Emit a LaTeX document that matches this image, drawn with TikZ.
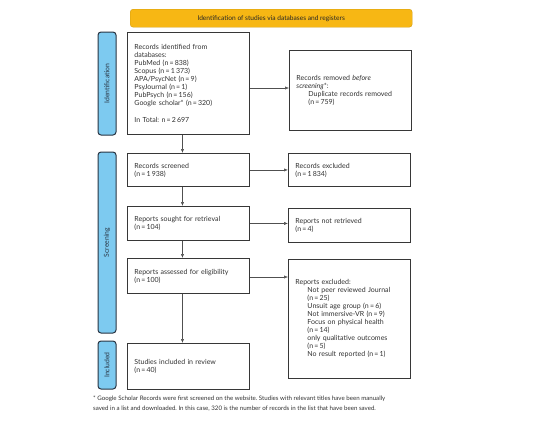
\documentclass[tikz,border=0pt]{standalone}
\usepackage{fontspec}
\setmainfont{Lato}
\usetikzlibrary{arrows.meta}
\definecolor{txtgray}{RGB}{50,50,50}
\definecolor{linegray}{RGB}{55,55,55}
\definecolor{arrgray}{RGB}{80,80,80}
\definecolor{barblue}{RGB}{125,202,240}
\definecolor{bardark}{RGB}{40,52,66}
\definecolor{bannerorange}{RGB}{247,183,20}
\frenchspacing

\begin{document}
\begin{tikzpicture}[x=1pt,y=-1pt,
  every node/.style={font=\fontsize{7}{8}\selectfont, text=txtgray},
  box/.style={draw=linegray, line width=0.9pt, fill=white, anchor=north west,
    align=left, inner xsep=7pt, inner ysep=0pt, text width=108pt},
  sidebar/.style={draw=bardark, line width=1pt, fill=barblue, rounded corners=3pt,
    rotate=90, minimum height=18pt, inner sep=0pt, text=bardark,
    font=\fontsize{6.8}{8}\selectfont},
  banner/.style={draw=bannerorange!85!black, line width=0.4pt, fill=bannerorange,
    rounded corners=3pt, anchor=north west, minimum width=282pt, minimum height=18pt,
    inner sep=0pt, text=black!85, font=\fontsize{6.6}{8}\selectfont},
  arr/.style={draw=arrgray, line width=0.5pt, -{Latex[length=4pt,width=3.2pt]}}
]
\useasboundingbox (0,0) rectangle (545,426);

%---------------------------------------
% Header and phase bars
%---------------------------------------
\def\indent{\hspace*{12pt}}
\def\ne{\,=\,}

\node[banner] (head) at (130,9) {Identification of studies via databases and registers};

\node[sidebar, minimum width=103pt] (barId)   at (107,83.5)  {Identification};
\node[sidebar, minimum width=181pt] (barScr)  at (107,242.5) {Screening};
\node[sidebar, minimum width=48pt]  (barInc)  at (107,365)   {Included};

%---------------------------------------
% Left column
%---------------------------------------
\node[box, minimum height=102pt] (ident) at (127,32) {%
  Records identified from\\ databases:\\ PubMed (n\ne838)\\ Scopus (n\ne1\,373)\\
  APA/PsycNet (n\ne9)\\ PsyJournal (n\ne1)\\ PubPsych (n\ne156)\\
  Google scholar* (n\ne320)\\[9pt] In Total: n\ne2\,697};
\node[box, minimum height=33pt] (screened) at (127,153) {Records screened\\ (n\ne1\,938)};
\node[box, minimum height=34pt] (sought)   at (127,206) {Reports sought for retrieval\\ (n\ne104)};
\node[box, minimum height=35pt] (assessed) at (127,258) {Reports assessed for eligibility\\ (n\ne100)};
\node[box, minimum height=46pt] (studies)  at (127,343) {Studies included in review\\ (n\ne40)};

%---------------------------------------
% Right column
%---------------------------------------
\node[box, minimum height=80pt] (removed) at (289,50) {%
  Records removed \textit{before}\\ \textit{screening}*:\\
  \indent Duplicate records removed\\ \indent (n\ne759)};
\node[box, minimum height=33pt] (excl)   at (288,153) {Records excluded\\ (n\ne1\,834)};
\node[box, minimum height=34pt] (notret) at (288,208) {Reports not retrieved\\ (n\ne4)};
\node[box, minimum height=119pt] (exclrep) at (288,259) {%
  Reports excluded:\\
  \indent Not peer reviewed Journal\\ \indent (n\ne25)\\
  \indent Unsuit age group (n\ne6)\\
  \indent Not immersive-VR (n\ne9)\\
  \indent Focus on physical health\\ \indent (n\ne14)\\
  \indent only qualitative outcomes\\ \indent (n\ne5)\\
  \indent No result reported (n\ne1)};

%---------------------------------------
% Connectors
%---------------------------------------
\draw[arr] (ident.east |- 0,88) -- (removed.west |- 0,88);
\draw[arr] ([xshift=-6pt]ident.south) -- ([xshift=-6pt]screened.north);
\draw[arr] ([xshift=-6pt]screened.south) -- ([xshift=-6pt]sought.north);
\draw[arr] ([xshift=-6pt]sought.south) -- ([xshift=-6pt]assessed.north);
\draw[arr] ([xshift=-6pt]assessed.south) -- ([xshift=-6pt]studies.north);
\draw[arr] (screened.east) -- (screened.east -| excl.west);
\draw[arr] (sought.east) -- (sought.east -| notret.west);
\draw[arr] (assessed.east |- 0,277) -- (exclrep.west |- 0,277);

% Footnote
\node[anchor=north west, align=left, inner sep=0pt, font=\fontsize{6.15}{10}\selectfont] (note) at (93,396) {%
  * Google Scholar Records were first screened on the website. Studies with relevant titles have been manually\\
  saved in a list and downloaded. In this case, 320 is the number of records in the list that have been saved.};

\end{tikzpicture}
\end{document}
